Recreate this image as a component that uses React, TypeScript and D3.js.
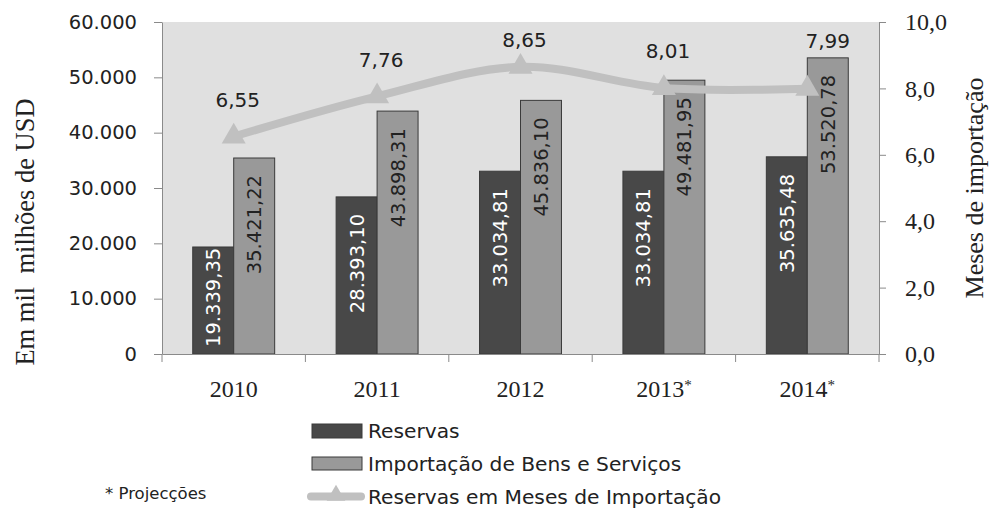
import { useEffect, useRef } from 'react'
import * as d3 from 'd3'

// ── data ─────────────────────────────────────────────────────────────────────
const categories = ['2010', '2011', '2012', '2013*', '2014*']
const reservas   = [19339.35, 28393.10, 33034.81, 33034.81, 35635.48]
const importacao = [35421.22, 43898.31, 45836.10, 49481.95, 53520.78]
const meses      = [6.55, 7.76, 8.65, 8.01, 7.99]
const leftTicks  = [0, 10000, 20000, 30000, 40000, 50000, 60000]
const rightTicks = [0, 2, 4, 6, 8, 10]

const seriesNames = ['Reservas', 'Importação de Bens e Serviços', 'Reservas em Meses de Importação']

// ── constants ────────────────────────────────────────────────────────────────
const W = 990
const H = 512
const P = { left: 162, right: 879, top: 22, bottom: 354 }
const SANS  = '"DejaVu Sans", sans-serif'
const SERIF = '"Liberation Serif", serif'
const C_BG    = '#e0e0e0'
const C_DARK  = '#484848'
const C_LIGHT = '#999999'
const C_EDGE  = '#3a3a3a'
const C_LINE  = '#c0c0c0'
const C_AXIS  = '#8a8a8a'
const C_TEXT  = '#222222'

const loc = d3.formatLocale({ decimal: ',', thousands: '.', grouping: [3], currency: ['', ''] })
const fmtVal  = loc.format(',.2f')
const fmtLeft = loc.format(',.0f')
const fmtR    = loc.format('.1f')
const fmtM    = loc.format('.2f')

export default function App() {
  const ref = useRef<SVGSVGElement>(null)

  useEffect(() => {
    if (!ref.current) return
    const svg = d3.select(ref.current)
    svg.selectAll('*').remove()

    const x  = d3.scaleBand<string>().domain(categories).range([P.left, P.right]).padding(0)
    const y  = d3.scaleLinear().domain([0, 60000]).range([P.bottom, P.top])
    const y2 = d3.scaleLinear().domain([0, 10]).range([P.bottom, P.top])
    const bw = x.bandwidth() / 3.5
    const cx = (c: string) => (x(c) ?? 0) + x.bandwidth() / 2

    // plot background
    svg.append('rect')
      .attr('x', P.left).attr('y', P.top)
      .attr('width', P.right - P.left).attr('height', P.bottom - P.top)
      .attr('fill', C_BG)

    // ── bars ──────────────────────────────────────────────────────────────
    const bars = [
      { vals: reservas,   dx: -bw, fill: C_DARK,  txt: '#ffffff' },
      { vals: importacao, dx: 0,   fill: C_LIGHT, txt: C_TEXT },
    ]
    bars.forEach(({ vals, dx, fill }) => {
      svg.append('g').selectAll('rect')
        .data(vals)
        .join('rect')
          .attr('x', (_, i) => cx(categories[i]) + dx)
          .attr('y', v => y(v))
          .attr('width', bw)
          .attr('height', v => P.bottom - y(v))
          .attr('fill', fill)
          .attr('stroke', C_EDGE).attr('stroke-width', 1)
    })

    // bar labels (rotated, inside end)
    bars.forEach(({ vals, dx, txt }) => {
      vals.forEach((v, i) => {
        const bx = cx(categories[i]) + dx + bw / 2
        const t = svg.append('text')
          .attr('font-family', SANS).attr('font-size', 19.5)
          .attr('fill', txt)
          .attr('text-anchor', 'end')
          .attr('dy', '0.36em')
          .text(fmtVal(v))
        const len = (t.node() as SVGTextElement).getComputedTextLength()
        const top = Math.min(y(v) + 17, P.bottom - 7 - len)
        t.attr('transform', `translate(${bx},${top}) rotate(-90)`)
      })
    })

    // ── axes ──────────────────────────────────────────────────────────────
    const styleAxis = (gg: d3.Selection<SVGGElement, unknown, null, undefined>, font: string, size: number) => {
      gg.select('.domain').attr('stroke', C_AXIS)
      gg.selectAll('line').attr('stroke', C_AXIS)
      gg.selectAll('text').attr('fill', C_TEXT).attr('font-family', font).attr('font-size', size)
    }

    svg.append('g')
      .attr('transform', `translate(${P.left},0)`)
      .call(d3.axisLeft(y).tickValues(leftTicks).tickFormat(v => fmtLeft(+v)).tickSize(8).tickSizeOuter(0).tickPadding(17))
      .call(gg => styleAxis(gg, SANS, 19.5))

    svg.append('g')
      .attr('transform', `translate(${P.right},0)`)
      .call(d3.axisRight(y2).tickValues(rightTicks).tickFormat(v => fmtR(+v)).tickSize(7).tickSizeOuter(0).tickPadding(19))
      .call(gg => styleAxis(gg, SERIF, 24))

    svg.append('g')
      .attr('transform', `translate(0,${P.bottom})`)
      .call(d3.axisBottom(x).tickSize(0).tickSizeOuter(0).tickPadding(26))
      .call(gg => styleAxis(gg, SERIF, 24))
      .call(gg => gg.selectAll<SVGTextElement, string>('text').each(function (d) {
        // smaller raised asterisk for projected years
        if (!d.endsWith('*')) return
        const t = d3.select(this).text(d.slice(0, -1))
        t.append('tspan').attr('font-size', 15).attr('dy', '-0.45em').text('*')
      }))

    // category boundary ticks
    svg.append('g').selectAll('line')
      .data(d3.range(categories.length + 1))
      .join('line')
        .attr('x1', i => P.left + i * x.step()).attr('x2', i => P.left + i * x.step())
        .attr('y1', P.bottom).attr('y2', P.bottom + 8)
        .attr('stroke', C_AXIS)

    // axis titles
    svg.append('text')
      .attr('transform', `translate(34,232) rotate(-90)`)
      .attr('text-anchor', 'middle')
      .attr('font-family', SERIF).attr('font-size', 26.5).attr('fill', C_TEXT)
      .style('white-space', 'pre')
      .text('Em mil  milhões de USD')

    svg.append('text')
      .attr('transform', `translate(983,${(P.top + P.bottom) / 2}) rotate(-90)`)
      .attr('text-anchor', 'middle')
      .attr('font-family', SERIF).attr('font-size', 26).attr('fill', C_TEXT)
      .text('Meses de importação')

    // ── line ──────────────────────────────────────────────────────────────
    const pts = meses.map((m, i) => [cx(categories[i]), y2(m)] as [number, number])
    svg.append('path')
      .attr('d', d3.line().curve(d3.curveCardinal.tension(0))(pts) ?? '')
      .attr('fill', 'none').attr('stroke', C_LINE).attr('stroke-width', 8)
      .attr('stroke-linecap', 'round').attr('stroke-linejoin', 'round')

    const tri = d3.symbol().type(d3.symbolTriangle).size(250)
    svg.append('g').selectAll('path')
      .data(pts)
      .join('path')
        .attr('transform', d => `translate(${d[0]},${d[1]})`)
        .attr('d', tri() ?? '')
        .attr('fill', C_LINE)

    // line labels: above the marker, kept clear of the taller bar and the plot top
    meses.forEach((m, i) => {
      const c = cx(categories[i])
      const barLim = y(importacao[i]) - 17
      const mk = y2(m) - 37
      const lx = barLim < mk ? c + bw / 2 : c + 4
      const ly = Math.max(P.top + 18, Math.min(mk, barLim))
      svg.append('text')
        .attr('x', lx).attr('y', ly).attr('dy', '0.36em')
        .attr('text-anchor', 'middle')
        .attr('font-family', SANS).attr('font-size', 20).attr('fill', C_TEXT)
        .text(fmtM(m))
    })

    // ── legend ────────────────────────────────────────────────────────────
    const lg = svg.append('g')
    const rowY = [431, 464, 496.5]
    lg.append('rect').attr('x', 312).attr('y', rowY[0] - 7).attr('width', 50).attr('height', 14)
      .attr('fill', C_DARK).attr('stroke', C_EDGE)
    lg.append('rect').attr('x', 312).attr('y', rowY[1] - 7).attr('width', 50).attr('height', 13)
      .attr('fill', C_LIGHT).attr('stroke', C_EDGE)
    lg.append('line').attr('x1', 311).attr('x2', 361).attr('y1', rowY[2]).attr('y2', rowY[2])
      .attr('stroke', C_LINE).attr('stroke-width', 8).attr('stroke-linecap', 'round')
    lg.append('path').attr('transform', `translate(336,${rowY[2] - 1})`)
      .attr('d', d3.symbol().type(d3.symbolTriangle).size(150)() ?? '')
      .attr('fill', C_LINE)
    seriesNames.forEach((s, i) => {
      lg.append('text')
        .attr('x', 368).attr('y', rowY[i]).attr('dy', '0.36em')
        .attr('font-family', SANS).attr('font-size', 20.2).attr('fill', C_TEXT)
        .text(s)
    })

    svg.append('text')
      .attr('x', 105).attr('y', 493).attr('dy', '0.36em')
      .attr('font-family', SANS).attr('font-size', 16.5).attr('fill', C_TEXT)
      .text('* Projecções')
  }, [])

  return (
    <svg
      ref={ref}
      width={W}
      height={H}
      viewBox={`0 0 ${W} ${H}`}
      style={{ position: 'absolute', left: 0, top: 0, background: '#ffffff', display: 'block' }}
    />
  )
}
